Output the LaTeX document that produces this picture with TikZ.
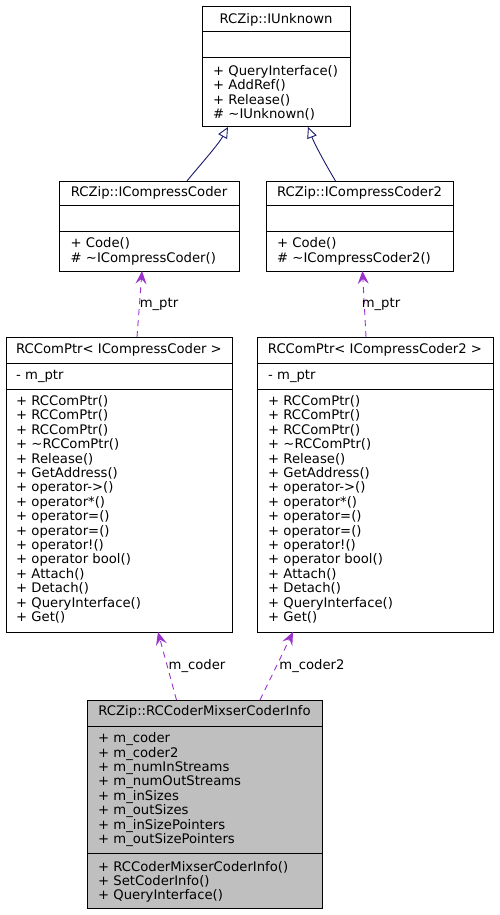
\documentclass[tikz,border=0pt]{standalone}
\usepackage{fontspec}
\setmainfont{DejaVu Sans}
\usetikzlibrary{arrows.meta}
\newcommand\umlfont{\fontsize{13.2}{14.4}\selectfont}
\definecolor{inheritc}{HTML}{191970}
\definecolor{usagec}{HTML}{9A32CD}
\definecolor{focusfill}{HTML}{BFBFBF}
\tikzset{
  classbox/.style={draw=black, line width=1pt, inner sep=0pt, outer sep=0pt, anchor=north west},
  divider/.style={draw=black, line width=1pt},
  ctitle/.style={inner sep=0pt, font=\umlfont},
  members/.style={inner sep=0pt, anchor=north west, align=left, font=\umlfont},
  inherit/.style={draw=inheritc, line width=0.9pt, -{Triangle[open, length=11pt, width=10pt, fill=white]}},
  usage/.style={draw=usagec, line width=0.9pt, dash pattern=on 6pt off 5pt,
    -{Stealth[length=13pt, width=11pt, inset=5pt]}},
  elabel/.style={inner sep=0pt, font=\umlfont},
}
\begin{document}
\begin{tikzpicture}[x=1pt, y=-1pt]
\useasboundingbox (0,0) rectangle (499,915);

% RCZip::IUnknown
\node[classbox, minimum width=148pt, minimum height=120pt] (iu) at (202,7) {};
\draw[divider] (202,32) -- (350,32);
\draw[divider] (202,58) -- (350,58);
\node[ctitle] (iu-t) at (276,19.5) {RCZip::IUnknown};
\node[members] (iu-m) at (213,65.2) {+ QueryInterface()\\+ AddRef()\\+ Release()\\\# \textasciitilde IUnknown()};

% RCZip::ICompressCoder
\node[classbox, minimum width=180pt, minimum height=90pt] (icc) at (59,181) {};
\draw[divider] (59,205) -- (239,205);
\draw[divider] (59,231) -- (239,231);
\node[ctitle] (icc-t) at (149,193) {RCZip::ICompressCoder};
\node[members] (icc-m) at (70.5,237.5) {+ Code()\\\# \textasciitilde ICompressCoder()};

% RCZip::ICompressCoder2
\node[classbox, minimum width=187pt, minimum height=90pt] (icc2) at (266,181) {};
\draw[divider] (266,205) -- (453,205);
\draw[divider] (266,231) -- (453,231);
\node[ctitle] (icc2-t) at (359.5,193) {RCZip::ICompressCoder2};
\node[members] (icc2-m) at (277,237.5) {+ Code()\\\# \textasciitilde ICompressCoder2()};

% RCComPtr< ICompressCoder >
\node[classbox, minimum width=226pt, minimum height=295pt] (rc1) at (6,337) {};
\draw[divider] (6,363) -- (232,363);
\draw[divider] (6,389) -- (232,389);
\node[ctitle] (rc1-t) at (119,350) {RCComPtr< ICompressCoder >};
\node[members] (rc1-a) at (16,370.2) {- m\_ptr};
\node[members] (rc1-m) at (16,395.2) {+ RCComPtr()\\+ RCComPtr()\\+ RCComPtr()\\+ \textasciitilde RCComPtr()\\+ Release()\\+ GetAddress()\\+ operator->()\\+ operator*()\\+ operator=()\\+ operator=()\\+ operator!()\\+ operator bool()\\+ Attach()\\+ Detach()\\+ QueryInterface()\\+ Get()};

% RCComPtr< ICompressCoder2 >
\node[classbox, minimum width=236pt, minimum height=295pt] (rc2) at (257,337) {};
\draw[divider] (257,363) -- (493,363);
\draw[divider] (257,389) -- (493,389);
\node[ctitle] (rc2-t) at (375,350) {RCComPtr< ICompressCoder2 >};
\node[members] (rc2-a) at (268,370.2) {- m\_ptr};
\node[members] (rc2-m) at (268,395.2) {+ RCComPtr()\\+ RCComPtr()\\+ RCComPtr()\\+ \textasciitilde RCComPtr()\\+ Release()\\+ GetAddress()\\+ operator->()\\+ operator*()\\+ operator=()\\+ operator=()\\+ operator!()\\+ operator bool()\\+ Attach()\\+ Detach()\\+ QueryInterface()\\+ Get()};

% RCZip::RCCoderMixserCoderInfo
\node[classbox, fill=focusfill, minimum width=235pt, minimum height=208pt] (mix) at (87,700) {};
\draw[divider] (87,726) -- (322,726);
\draw[divider] (87,853) -- (322,853);
\node[ctitle] (mix-t) at (204.5,712) {RCZip::RCCoderMixserCoderInfo};
\node[members] (mix-a) at (98,732.5) {+ m\_coder\\+ m\_coder2\\+ m\_numInStreams\\+ m\_numOutStreams\\+ m\_inSizes\\+ m\_outSizes\\+ m\_inSizePointers\\+ m\_outSizePointers};
\node[members] (mix-m) at (98,860.9) {+ RCCoderMixserCoderInfo()\\+ SetCoderInfo()\\+ QueryInterface()};

% inheritance
\draw[inherit] ([xshift=38pt]icc.north) .. controls (200,165) and (218,145) .. ([xshift=-48pt]iu.south);
\draw[inherit] ([xshift=-24pt]icc2.north) .. controls (326,165) and (315,145) .. ([xshift=32pt]iu.south);

% usage relations
\draw[usage] ([xshift=18pt]rc1.north) -- ([xshift=-7pt]icc.south);
\node[elabel] (l-ptr1) at (159,304) {m\_ptr};
\draw[usage] ([xshift=-9pt]rc2.north) -- ([xshift=3pt]icc2.south);
\node[elabel] (l-ptr2) at (381,304) {m\_ptr};
\draw[usage] ([xshift=-28pt]mix.north) -- ([xshift=39pt]rc1.south);
\node[elabel] (l-coder) at (197,666) {m\_coder};
\draw[usage] ([xshift=55.5pt]mix.north) -- ([xshift=-82pt]rc2.south);
\node[elabel] (l-coder2) at (312,666) {m\_coder2};
\end{tikzpicture}
\end{document}
